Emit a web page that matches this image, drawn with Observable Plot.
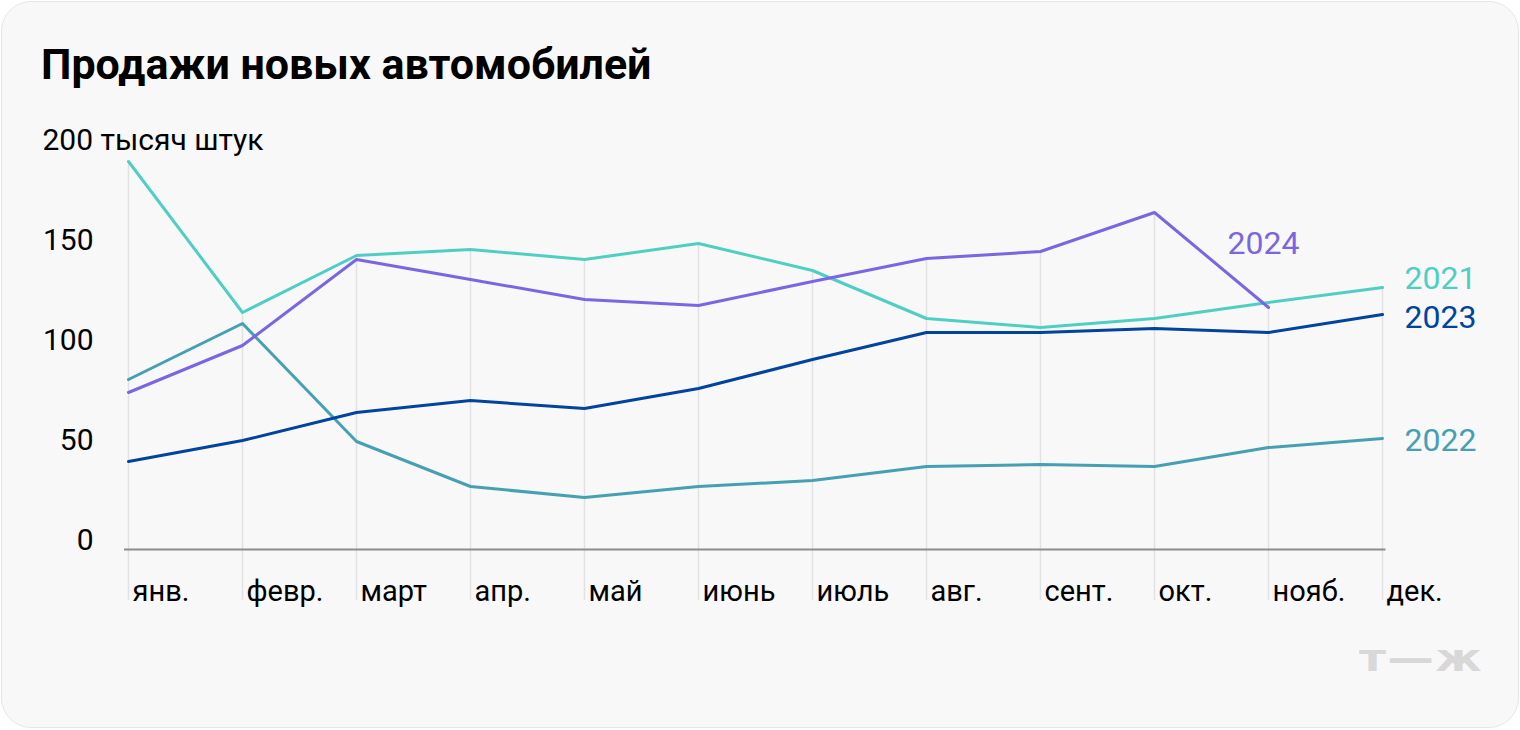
<!DOCTYPE html>
<html><head><meta charset="utf-8">
<script src="https://cdn.jsdelivr.net/npm/d3@7"></script>
<script src="https://cdn.jsdelivr.net/npm/@observablehq/plot@0.6"></script>
<style>
html,body{margin:0;padding:0;background:#fff;}
body{width:1520px;height:730px;position:relative;overflow:hidden;font-family:Roboto,sans-serif;}
.card{position:absolute;left:1px;top:1px;width:1518px;height:727px;box-sizing:border-box;background:#f8f8f8;border:1.5px solid #e6e6e6;border-radius:30px;}
.title{position:absolute;left:41px;top:43px;margin:0;font:700 43px/1 Roboto,sans-serif;color:#000;white-space:nowrap;}
#chart{position:absolute;left:0;top:120px;}
.logo{position:absolute;left:1359px;top:640px;font:900 37px/1 "DejaVu Sans",sans-serif;color:#d8d8d8;white-space:nowrap;letter-spacing:1px;transform:scaleX(1.26);transform-origin:left center;}
</style>
</head><body>
<div class="card"></div>
<h1 class="title">Продажи новых автомобилей</h1>
<div id="chart"></div>
<div class="logo">т—ж</div>
<script>
const months = ["янв.","февр.","март","апр.","май","июнь","июль","авг.","сент.","окт.","нояб.","дек."];
const years = ["2021","2022","2023","2024"];
const colors = ["#4fcfc4","#46a0b3","#00449e","#7a66e3"];
const sales2021 = [194, 118.5, 147, 150, 145, 153, 139.5, 115.5, 111, 115.5, 123.5, 131];
const sales2022 = [85, 113, 54, 31.5, 26, 31.5, 34.5, 41.5, 42.5, 41.5, 51, 55.5];
const sales2023 = [44, 54.5, 68.5, 74.5, 70.5, 80.5, 95, 108.5, 108.5, 110.5, 108.5, 117.5];
const sales2024 = [78.5, 102, 145, 135, 125, 122, 134, 145.5, 149, 168.5, 121];
const yTicks = [0, 50, 100, 150];
const yTopTick = 200;
const yUnitLabel = "200 тысяч штук";

const series = {"2021": sales2021, "2022": sales2022, "2023": sales2023, "2024": sales2024};
const data = years.flatMap(y => series[y].map((v, i) => ({year: y, month: months[i], value: v})));
const gridTops = months.map((m, i) => ({month: m, top: d3.max(years, y => series[y][i])}));
const lastPoints = years.map(y => ({year: y, month: months[series[y].length - 1], value: series[y][series[y].length - 1]}));
const labelStyle = {
  "2021": {dx: 22, dy: -9},
  "2022": {dx: 22, dy: 2},
  "2023": {dx: 22, dy: 3},
  "2024": {dx: -41, dy: -64}
};
const colorOf = Object.fromEntries(years.map((y, i) => [y, colors[i]]));

const chart = Plot.plot({
  width: 1520,
  height: 500,
  marginTop: 29,
  marginBottom: 71,
  marginLeft: 124,
  marginRight: 134.5,
  style: {background: "transparent", fontFamily: "Roboto, sans-serif", color: "#000"},
  x: {type: "point", domain: months, padding: 0},
  y: {domain: [0, 200]},
  color: {domain: years, range: colors},
  marks: [
    Plot.ruleX(gridTops, {x: "month", y1: "top", y2: 0, stroke: "#e2e2e2", strokeWidth: 1.5, insetBottom: -51}),
    Plot.ruleY([0], {stroke: "#8c8c8c", strokeWidth: 2}),
    Plot.axisY(yTicks, {tickSize: 0, tickPadding: 31, dy: -9, fontSize: 30, label: null}),
    Plot.text([{v: yTopTick, t: yUnitLabel}], {y: "v", text: "t", frameAnchor: "left", dx: -82, dy: -9, textAnchor: "start", fontSize: 30, fill: "#000"}),
    Plot.axisX({tickSize: 0, tickPadding: 31, textAnchor: "start", dx: 4, fontSize: 29, label: null}),
    Plot.line(data, {x: "month", y: "value", z: "year", stroke: "year", strokeWidth: 3}),
    ...lastPoints.map(p => Plot.text([p], {x: "month", y: "value", text: "year", textAnchor: "start", fontSize: 32, fill: colorOf[p.year], dx: labelStyle[p.year].dx, dy: labelStyle[p.year].dy}))
  ]
});
document.getElementById("chart").appendChild(chart);
</script>
</body></html>
